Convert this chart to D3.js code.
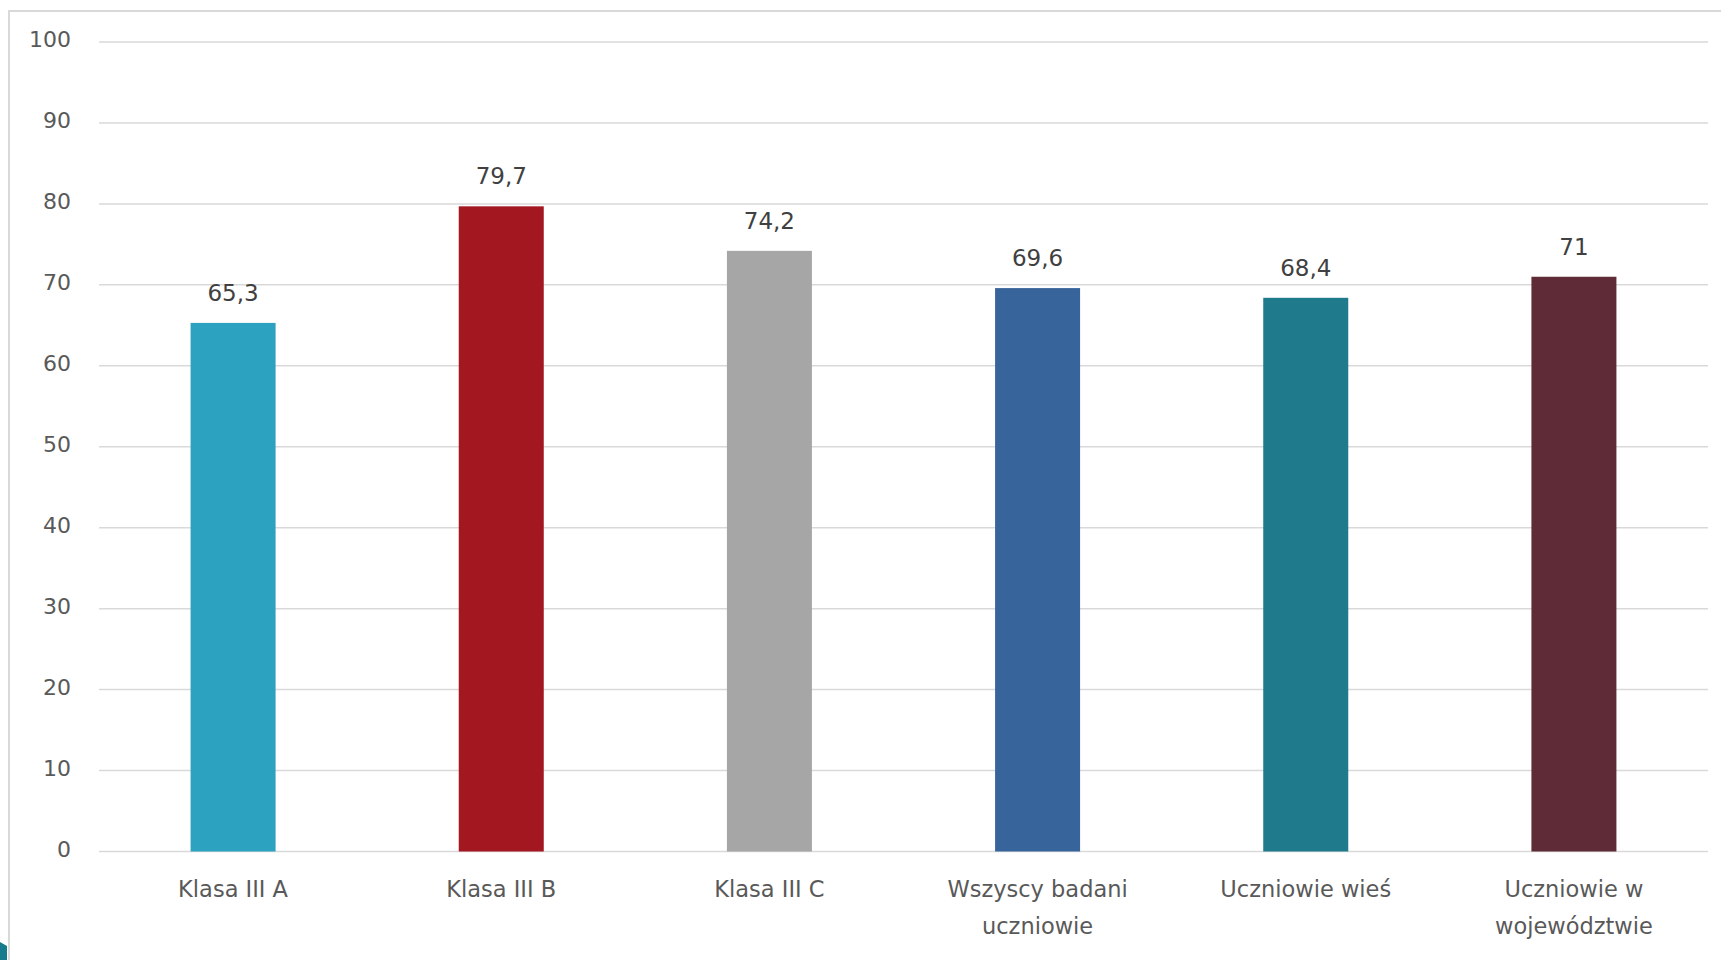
<!DOCTYPE html>
<html>
<head>
<meta charset="utf-8">
<script src="https://cdn.jsdelivr.net/npm/d3@7"></script>
<style>
  body { margin: 0; background: #fff; }
  svg { display: block; }
</style>
</head>
<body>
<script>
const svgWidth = 1721
const svgHeight = 960

// data
const categories = ["Klasa III A", "Klasa III B", "Klasa III C", "Wszyscy badani uczniowie", "Uczniowie wieś", "Uczniowie w województwie"]
const categoryLines = [["Klasa III A"], ["Klasa III B"], ["Klasa III C"], ["Wszyscy badani", "uczniowie"], ["Uczniowie wieś"], ["Uczniowie w", "województwie"]]
const values = [65.3, 79.7, 74.2, 69.6, 68.4, 71]
const valueLabels = ["65,3", "79,7", "74,2", "69,6", "68,4", "71"]
const barColors = ["#2ca2c0", "#a21720", "#a6a6a6", "#38649c", "#1f7a8c", "#5e2b36"]
const yTicks = [0, 10, 20, 30, 40, 50, 60, 70, 80, 90, 100]

const plot = { left: 99, right: 1708, top: 42, bottom: 851.5 }
const font = "'DejaVu Sans', Verdana, sans-serif"

const svg = d3.select("body").append("svg")
    .attr("width", svgWidth)
    .attr("height", svgHeight)

// outer frame (runs off the right and bottom edge)
svg.append("rect")
    .attr("x", 9)
    .attr("y", 11)
    .attr("width", svgWidth + 20)
    .attr("height", svgHeight + 20)
    .attr("fill", "none")
    .attr("stroke", "#d9d9d9")
    .attr("stroke-width", 2)

// small teal corner piece at bottom left
svg.append("path")
    .attr("d", "M0,942 L7,946 L7,960 L0,960 Z")
    .attr("fill", "#157a8c")

const x = d3.scaleBand()
    .domain(categories)
    .range([plot.left, plot.right])
    .paddingInner(0.683)
    .paddingOuter(0.3415)

const y = d3.scaleLinear()
    .domain([0, 100])
    .range([plot.bottom, plot.top])

// gridlines
svg.append("g")
    .selectAll("line")
    .data(yTicks)
    .join("line")
    .attr("x1", plot.left)
    .attr("x2", plot.right)
    .attr("y1", d => y(d))
    .attr("y2", d => y(d))
    .attr("stroke", "#d9d9d9")
    .attr("stroke-width", 1.5)

// y tick labels
svg.append("g")
    .selectAll("text")
    .data(yTicks)
    .join("text")
    .attr("x", 71)
    .attr("y", d => y(d) + 5)
    .attr("text-anchor", "end")
    .attr("font-family", font)
    .attr("font-size", 22)
    .attr("fill", "#595959")
    .text(d => d)

// bars
svg.append("g")
    .selectAll("rect")
    .data(values)
    .join("rect")
    .attr("x", (d, i) => x(categories[i]))
    .attr("width", x.bandwidth())
    .attr("y", d => y(d))
    .attr("height", d => y(0) - y(d))
    .attr("fill", (d, i) => barColors[i])

// value labels
svg.append("g")
    .selectAll("text")
    .data(values)
    .join("text")
    .attr("x", (d, i) => x(categories[i]) + x.bandwidth() / 2)
    .attr("y", d => y(d) - 22)
    .attr("text-anchor", "middle")
    .attr("font-family", font)
    .attr("font-size", 23)
    .attr("fill", "#404040")
    .text((d, i) => valueLabels[i])

// category labels
const catG = svg.append("g")
categories.forEach((c, i) => {
    const t = catG.append("text")
        .attr("x", x(c) + x.bandwidth() / 2)
        .attr("y", 897)
        .attr("text-anchor", "middle")
        .attr("font-family", font)
        .attr("font-size", 22.5)
        .attr("fill", "#595959")
    categoryLines[i].forEach((line, j) => {
        t.append("tspan")
            .attr("x", x(c) + x.bandwidth() / 2)
            .attr("dy", j === 0 ? 0 : 37)
            .text(line)
    })
})
</script>
</body>
</html>
